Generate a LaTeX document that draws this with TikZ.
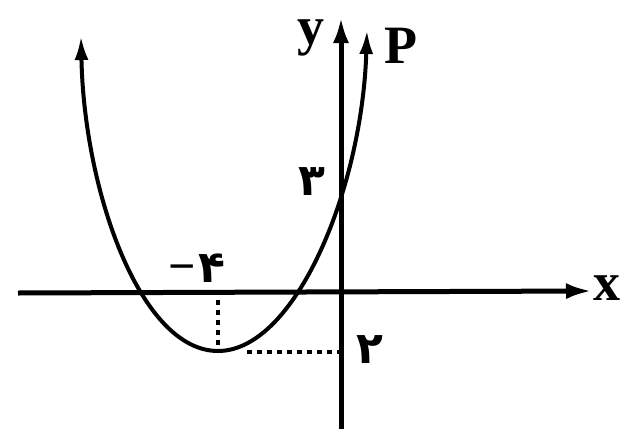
\documentclass[tikz,border=0pt]{standalone}
\usepackage{fontspec}
\setmainfont{Liberation Serif}
\newfontfamily\arabicfont[Script=Arabic]{DejaVu Sans}
\usetikzlibrary{arrows.meta}
\begin{document}
\begin{tikzpicture}[x=1pt,y=-1pt,
  axis/.style={line width=5pt, -{Latex[length=26pt,width=16pt]}},
  curve/.style={line width=4pt, {Latex[length=24pt,width=14pt]}-{Latex[length=24pt,width=14pt]}},
  guide/.style={line width=3.5pt, dash pattern=on 5pt off 5pt},
  lbl/.style={font=\fontsize{54}{54}\selectfont\bfseries, inner sep=0pt},
  num/.style={font=\arabicfont\fontsize{44}{44}\selectfont\bfseries, inner sep=0pt}]
\useasboundingbox (0,0) rectangle (625,429);
\fill[white] (0,0) rectangle (625,429);
% axes
\coordinate (xs) at (18,293);
\coordinate (xe) at (592,291);
\coordinate (ys) at (341,429);
\coordinate (ye) at (341,17);
\draw[axis] (xs) -- (xe);
\draw[axis] (ys) -- (ye);
% parabola
\coordinate (pl) at (81,36);
\coordinate (v) at (218,351);
\coordinate (pr) at (367,30);
\draw[curve] (pl) .. controls (84,190) and (140,351) .. (v)
  .. controls (295,351) and (362,190) .. (pr);
% guides
\coordinate (vx) at (218,300);
\coordinate (vb) at (218,346);
\coordinate (hv) at (247,352);
\coordinate (hy) at (339,352);
\draw[guide] (vx) -- (vb);
\draw[guide] (hv) -- (hy);
% labels
\node[lbl] (ly) at (311,38) {y};
\node[lbl] (lP) at (401,46) {P};
\node[lbl] (lx) at (607,288) {x};
\node[num] (lm4) at (197,268) {\hbox{{\rmfamily\bfseries\fontsize{48}{48}\selectfont −}\kern2pt{\arabicfont ۴}}};
\node[num] (l3) at (312,182) {۳};
\node[num] (l2) at (370,350) {۲};
\end{tikzpicture}
\end{document}
